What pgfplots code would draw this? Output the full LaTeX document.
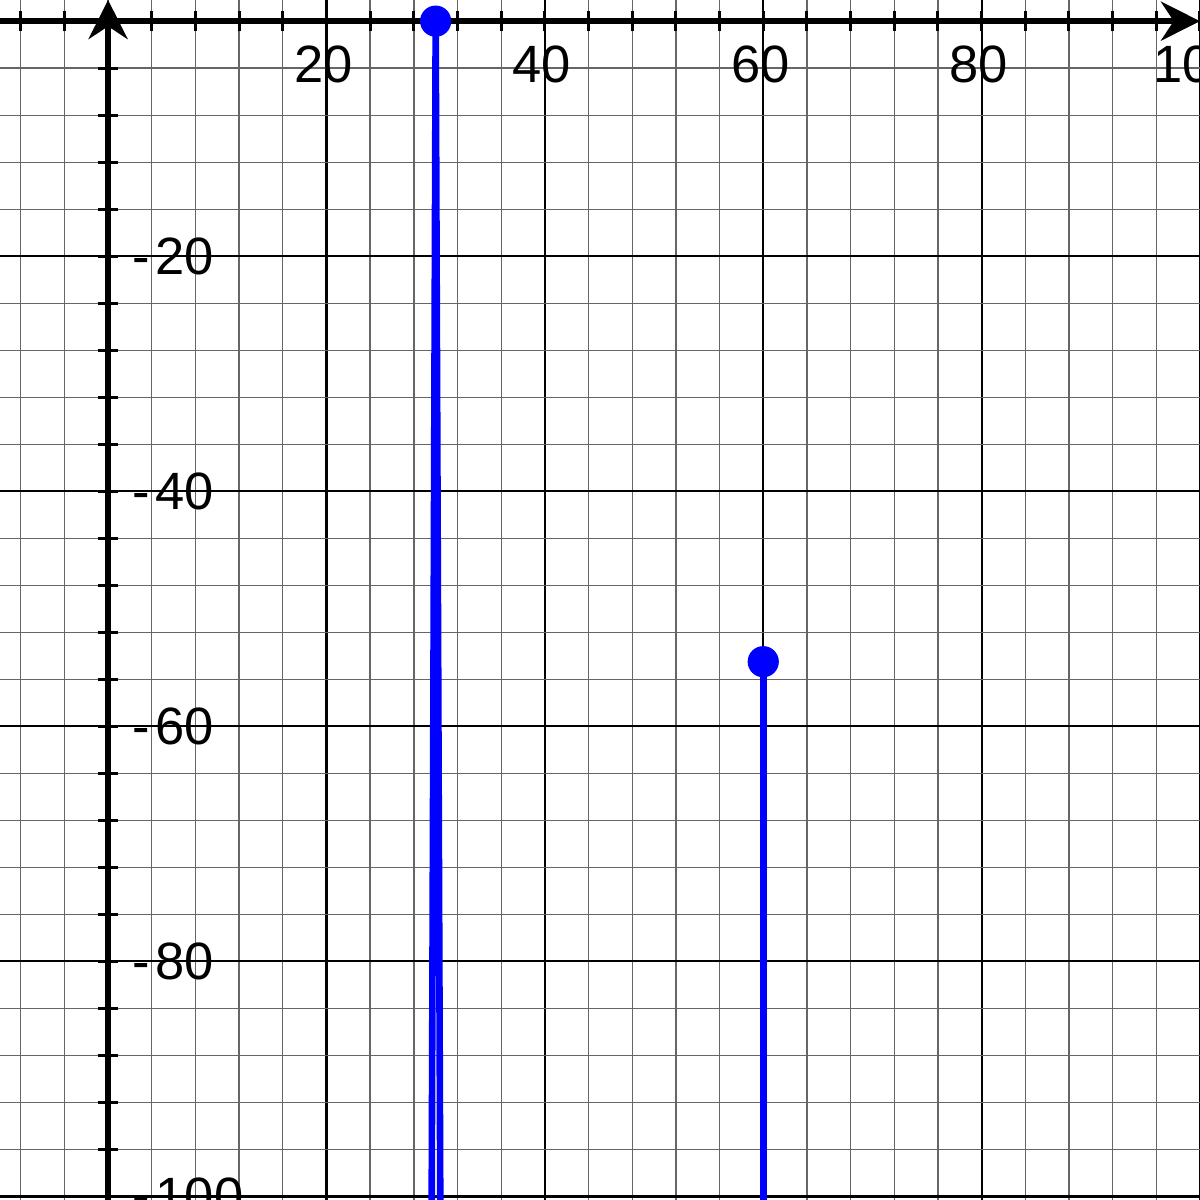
\documentclass[border=0pt]{standalone}
\usepackage{fontspec}
\setmainfont{Liberation Sans}
\usepackage{pgfplots}
\pgfplotsset{compat=1.18}
\usetikzlibrary{arrows.meta}
\begin{document}
\begin{tikzpicture}
\begin{axis}[
 scale only axis, width=400pt, height=400pt,
 xmin=-9.9, xmax=100, ymin=-100.3, ymax=1.8,
 axis lines=middle,
 axis line style={line width=2pt},
 every inner x axis line/.append style={-{Stealth[length=13pt,width=13pt]}},
 every inner y axis line/.append style={-{Stealth[length=13pt,width=13pt]}},
 xtick={20,40,60,80,100}, xticklabels={20,40,60,80,100},
 ytick={-100,-80,-60,-40,-20}, yticklabels={-\kern1.8pt100,-\kern1.8pt80,-\kern1.8pt60,-\kern1.8pt40,-\kern1.8pt20},
 minor xtick={-8,-4,...,100},
 minor ytick={-100,-96,...,0},
 grid=both,
 major grid style={black, line width=0.7pt},
 minor grid style={black!60, line width=0.45pt},
 tick align=center,
 major tick length=6.7pt, minor tick length=6.7pt,
 every tick/.style={black, line width=1pt},
 tick label style={font=\fontsize{17.5}{20}\selectfont, inner sep=0pt},
 xticklabel style={anchor=north, yshift=-4.7pt, xshift=-1pt},
 yticklabel style={anchor=west, xshift=11.4pt},
 clip=true,
]
\addplot[blue, line width=2.2pt, line join=round] coordinates {(29.63,-102) (30,0) (30.43,-102)};
\addplot[blue, line width=2.2pt] coordinates {(60,-54.5) (60,-102)};
\addplot[only marks, mark=*, mark size=5pt, blue, mark options={fill=blue, draw=blue}] coordinates {(30,0) (60,-54.5)};
\end{axis}
\pgfresetboundingbox
\useasboundingbox (current axis.south west) rectangle (current axis.north east);
\end{tikzpicture}
\end{document}
